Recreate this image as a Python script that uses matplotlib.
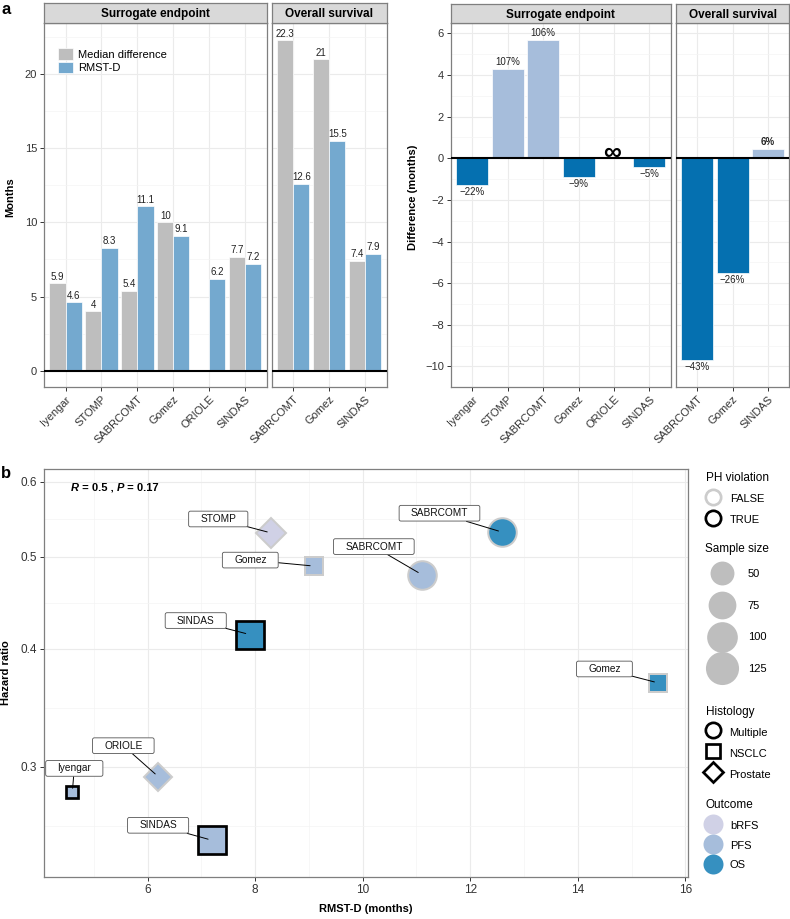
import numpy as np
import matplotlib
matplotlib.use('Agg')
import matplotlib.pyplot as plt
from matplotlib.lines import Line2D
from matplotlib.patches import BoxStyle
from matplotlib.legend_handler import HandlerLine2D

plt.rcParams['font.family'] = ['Liberation Sans', 'DejaVu Sans']

# ---- panel a: median difference vs RMST-D
surr_trials = ['Iyengar', 'STOMP', 'SABRCOMT', 'Gomez', 'ORIOLE', 'SINDAS']
os_trials = ['SABRCOMT', 'Gomez', 'SINDAS']
surr_median_diff = [5.9, 4.0, 5.4, 10.0, np.nan, 7.7]
surr_rmst_d = [4.6, 8.3, 11.1, 9.1, 6.2, 7.2]
os_median_diff = [22.3, 21.0, 7.4]
os_rmst_d = [12.6, 15.5, 7.9]

# RMST-D minus median difference, with relative change labels
surr_gap = [-1.3, 4.3, 5.7, -0.9, np.nan, -0.4]
surr_gap_pct = ['\u221222%', '107%', '106%', '\u22129%', '\u221e', '\u22125%']
os_gap = [-9.7, -5.5, 0.45]
os_gap_pct = ['\u221243%', '\u221226%', '6%']

# ---- panel b: hazard ratio vs RMST-D
trial = ['Iyengar', 'STOMP', 'SABRCOMT', 'Gomez', 'ORIOLE', 'SINDAS',
         'SABRCOMT', 'Gomez', 'SINDAS']
rmst = [4.6, 8.3, 11.1, 9.1, 6.2, 7.2, 12.6, 15.5, 7.9]
hazard = [0.282, 0.530, 0.479, 0.489, 0.293, 0.251, 0.531, 0.368, 0.414]
n_pts = [29, 62, 99, 49, 54, 133, 99, 49, 133]
histology = ['NSCLC', 'Prostate', 'Multiple', 'NSCLC', 'Prostate', 'NSCLC',
             'Multiple', 'NSCLC', 'NSCLC']
outcome = ['PFS', 'bRFS', 'PFS', 'PFS', 'PFS', 'PFS', 'OS', 'OS', 'OS']
ph_violation = [True, False, False, False, False, True, False, False, True]
size_breaks = [50, 75, 100, 125]

# label nudges in pixels (repel layout)
label_nudge = [(2, 24), (-53, 14), (-48, 28), (-64, 6), (-35, 31), (-54, 15),
               (-63, 19), (-54, 14), (-54, 14)]

GREY = '#BEBEBE'
BLUE = '#74A9CF'
POS = '#A6BDDB'
NEG = '#0570B0'
BORDER = '#7F7F7F'
TXT = '#333333'
outcome_col = {'bRFS': '#D0D1E6', 'PFS': '#A6BDDB', 'OS': '#3690C0'}
hist_marker = {'Multiple': 'o', 'NSCLC': 's', 'Prostate': 'D'}

W, H = 790, 919
fig = plt.figure(figsize=(W / 100, H / 100), dpi=100, facecolor='white')


def box(x0, y0, x1, y1):
    return [x0 / W, 1 - y1 / H, (x1 - x0) / W, (y1 - y0) / H]


def style_panel(ax, xminor=False):
    for s in ax.spines.values():
        s.set_color(BORDER)
        s.set_linewidth(0.9)
    ax.grid(True, which='major', color='#EBEBEB', lw=0.8)
    ax.grid(True, which='minor', axis='both' if xminor else 'y', color='#F4F4F4', lw=0.5)
    ax.set_axisbelow(True)
    ax.tick_params(which='major', length=3, width=0.7, color=TXT,
                   labelsize=8, labelcolor=TXT, pad=2)
    ax.tick_params(which='minor', length=0)


def strip(x0, x1, y0, y1, text):
    s = fig.add_axes(box(x0, y0, x1, y1))
    s.set_facecolor('#D9D9D9')
    s.set_xticks([])
    s.set_yticks([])
    for sp in s.spines.values():
        sp.set_color(BORDER)
        sp.set_linewidth(0.9)
    s.text(0.5, 0.45, text, ha='center', va='center', fontweight='bold', fontsize=8.5)


def xlabels(ax, labels):
    ax.set_xticks(np.arange(1, len(labels) + 1))
    ax.set_xticklabels(labels, rotation=45, ha='right', rotation_mode='anchor')


# ---------------- panel a, left ----------------
a1 = fig.add_axes(box(44, 23.3, 266.7, 387.3))
a2 = fig.add_axes(box(271.7, 23.3, 386.7, 387.3))
strip(44, 266.7, 3.3, 23.3, 'Surrogate endpoint')
strip(271.7, 386.7, 3.3, 23.3, 'Overall survival')

for ax, names, med, rm in [(a1, surr_trials, surr_median_diff, surr_rmst_d),
                           (a2, os_trials, os_median_diff, os_rmst_d)]:
    x = np.arange(1, len(names) + 1)
    med = np.array(med)
    rm = np.array(rm)
    ok = ~np.isnan(med)
    ax.bar(x[ok] - 0.225, med[ok], 0.45, color=GREY, edgecolor='white', lw=0.5,
           label='Median difference')
    ax.bar(x + 0.225, rm, 0.45, color=BLUE, edgecolor='white', lw=0.5, label='RMST-D')
    for xi, v in zip(x[ok] - 0.225, med[ok]):
        ax.annotate(f'{v:g}', (xi, v), xytext=(0, 1.5), textcoords='offset pixels',
                    ha='center', va='bottom', fontsize=7, color='#222222')
    for xi, v in zip(x + 0.225, rm):
        ax.annotate(f'{v:g}', (xi, v), xytext=(0, 1.5), textcoords='offset pixels',
                    ha='center', va='bottom', fontsize=7, color='#222222')
    ax.axhline(0, color='black', lw=1.5, zorder=3)
    ax.set_xlim(0.4, len(names) + 0.6)
    ax.set_ylim(-1.12, 23.43)
    ax.set_yticks([0, 5, 10, 15, 20])
    ax.set_yticks(np.arange(2.5, 23, 5), minor=True)
    style_panel(ax)
    xlabels(ax, names)
a2.tick_params(axis='y', which='both', left=False, labelleft=False)

a1.legend(loc='upper left', bbox_to_anchor=(58 / W, 1 - 48 / H),
          bbox_transform=fig.transFigure, frameon=False, fontsize=8,
          borderpad=0, borderaxespad=0, handlelength=1.35, handleheight=1.22,
          labelspacing=0.18, handletextpad=0.45)
fig.text(10 / W, 1 - 197 / H, 'Months', rotation=90, ha='center', va='center',
         fontweight='bold', fontsize=8)

# ---------------- panel a, right ----------------
b1 = fig.add_axes(box(451, 23.3, 670.7, 387.3))
b2 = fig.add_axes(box(676, 23.3, 789.3, 387.3))
strip(451, 670.7, 4, 23.3, 'Surrogate endpoint')
strip(676, 789.3, 4, 23.3, 'Overall survival')

for ax, names, gap, pct in [(b1, surr_trials, surr_gap, surr_gap_pct),
                            (b2, os_trials, os_gap, os_gap_pct)]:
    x = np.arange(1, len(names) + 1)
    gap = np.array(gap)
    ok = ~np.isnan(gap)
    cols = [POS if g > 0 else NEG for g in gap[ok]]
    ax.bar(x[ok], gap[ok], 0.9, color=cols, edgecolor='white', lw=0.5)
    for xi, g, lab in zip(x, gap, pct):
        if np.isnan(g):
            ax.annotate(lab, (xi, 0), xytext=(-2, 5), textcoords='offset pixels',
                        ha='center', va='center', fontsize=18, fontweight='bold')
        elif g > 0:
            w = 'bold' if ax is b2 else 'normal'
            ax.annotate(lab, (xi, g), xytext=(0, 2), textcoords='offset pixels',
                        ha='center', va='bottom', fontsize=7, color='#222222', fontweight=w)
        else:
            ax.annotate(lab, (xi, g), xytext=(0, -2), textcoords='offset pixels',
                        ha='center', va='top', fontsize=7, color='#222222')
    ax.axhline(0, color='black', lw=1.5, zorder=3)
    ax.set_xlim(0.4, len(names) + 0.6)
    ax.set_ylim(-10.45, 6.48)
    ax.set_yticks(np.arange(-10, 7, 2))
    ax.set_yticks(np.arange(-11, 7, 2), minor=True)
    style_panel(ax)
    xlabels(ax, names)
b2.tick_params(axis='y', which='both', left=False, labelleft=False)
fig.text(413 / W, 1 - 197 / H, 'Difference (months)', rotation=90, ha='center',
         va='center', fontweight='bold', fontsize=8)

fig.text(1 / W, 1 - 9 / H, 'a', fontweight='bold', fontsize=12, va='center')
fig.text(1 / W, 1 - 474 / H, 'b', fontweight='bold', fontsize=12, va='center')

# ---------------- panel b ----------------
c = fig.add_axes(box(44, 469.3, 688, 877.3))
c.set_yscale('log')
c.set_xlim(4.074, 16.05)
c.set_ylim(0.2294, 0.6188)
c.set_xticks(np.arange(6, 17, 2))
c.set_xticks(np.arange(5, 16, 2), minor=True)
c.set_yticks([0.3, 0.4, 0.5, 0.6])
c.set_yticklabels(['0.3', '0.4', '0.5', '0.6'])
c.set_yticks([0.3 * np.sqrt(0.3 / 0.4), np.sqrt(0.3 * 0.4), np.sqrt(0.4 * 0.5),
              np.sqrt(0.5 * 0.6)], minor=True)
c.yaxis.set_minor_formatter(plt.NullFormatter())
style_panel(c, xminor=True)
c.tick_params(labelsize=8.5)

n_lo, n_hi = min(n_pts), max(n_pts)


def marker_px(n):
    # size scale: overall marker extent (px) for a given sample size
    return 15.8 + 18 * np.sqrt((n - n_lo) / (n_hi - n_lo))


PX = 72 / 100
for i in range(len(trial)):
    m = hist_marker[histology[i]]
    mew = 2.7 if ph_violation[i] else 2.0
    ec = 'black' if ph_violation[i] else '#CCCCCC'
    d = marker_px(n_pts[i])
    ms = (d if m == 'o' else 0.886 * d) - mew
    c.plot(rmst[i], hazard[i], ls='none', marker=m, ms=ms * PX, mfc=outcome_col[outcome[i]],
           mec=ec, mew=mew * PX, zorder=3)


def label_box(x0, y0, width, height, mutation_size):
    px_, py_ = 1.15 * mutation_size, 0.28 * mutation_size
    return BoxStyle.Round(pad=0, rounding_size=0.18)(
        x0 - px_, y0 - py_, width + 2 * px_, height + 2 * py_, mutation_size)


for i in range(len(trial)):
    c.annotate(trial[i], (rmst[i], hazard[i]), xytext=label_nudge[i],
               textcoords='offset pixels', ha='center', va='center', fontsize=7.3,
               color='#111111', zorder=5,
               bbox=dict(boxstyle=label_box, fc='white', ec='#555555', lw=0.6),
               arrowprops=dict(arrowstyle='-', color='black', lw=0.7,
                               shrinkA=0, shrinkB=3))

# correlation annotation
t = c.text(71 / W, 1 - 488 / H, 'R', transform=fig.transFigure, fontsize=8,
           fontweight='bold', style='italic', va='center')
for piece, sty in [(' = 0.5 , ', 'normal'), ('P', 'italic'), (' = 0.17', 'normal')]:
    t = c.annotate(piece, xy=(1, 0), xycoords=t, va='bottom', ha='left',
                   fontsize=8, fontweight='bold', style=sty)

fig.text(6 / W, 1 - 673 / H, 'Hazard ratio', rotation=90, ha='center', va='center',
         fontweight='bold', fontsize=8)
fig.text(366 / W, 1 - 909 / H, 'RMST-D (months)', ha='center', va='center',
         fontweight='bold', fontsize=8)


# ---------------- legends for panel b ----------------
def add_legend(handles, labels, title, top, left, hl, htp, hh, ls, hmap=None):
    fig.legend(handles, labels, title=title, loc='upper left',
               bbox_to_anchor=(left / W, 1 - top / H), bbox_transform=fig.transFigure,
               frameon=False, borderpad=0, borderaxespad=0, handlelength=hl,
               handletextpad=htp, handleheight=hh, labelspacing=ls,
               fontsize=8, title_fontsize=8.5, alignment='left', handler_map=hmap)


def lower_key(legline, orig):
    # keep big size keys centred on their labels
    legline.update_from(orig)
    legline.set_ydata(np.asarray(legline.get_ydata()) - 2.9)


ph_handles = [Line2D([], [], ls='none', marker='o', ms=15.3 * PX, mfc='white',
                     mec=col, mew=2.7 * PX) for col in ['#CCCCCC', 'black']]
add_legend(ph_handles, ['FALSE', 'TRUE'], 'PH violation', 472, 706, 1.26, 0.9, 1.405, 0.732)

size_handles = [Line2D([], [], ls='none', marker='o', ms=marker_px(n) * PX,
                       mfc=GREY, mec='none') for n in size_breaks]
add_legend(size_handles, [str(n) for n in size_breaks], 'Sample size', 543, 705,
           3.06, 0.8, 3.14, 0.562,
           hmap={h: HandlerLine2D(update_func=lower_key) for h in size_handles})

hist_handles = [Line2D([], [], ls='none', marker=hist_marker[h],
                       ms=(15.3 if h == 'Multiple' else 14.3) * PX, mfc='white',
                       mec='black', mew=2.7 * PX) for h in ['Multiple', 'NSCLC', 'Prostate']]
add_legend(hist_handles, ['Multiple', 'NSCLC', 'Prostate'], 'Histology', 706, 706,
           1.26, 0.8, 1.585, 0.615)

out_handles = [Line2D([], [], ls='none', marker='o', ms=20 * PX, mfc=outcome_col[o],
                      mec='none') for o in ['bRFS', 'PFS', 'OS']]
add_legend(out_handles, ['bRFS', 'PFS', 'OS'], 'Outcome', 799, 706, 1.26, 0.9, 1.135, 0.772)

fig.savefig('out.png', dpi=100, facecolor='white')
